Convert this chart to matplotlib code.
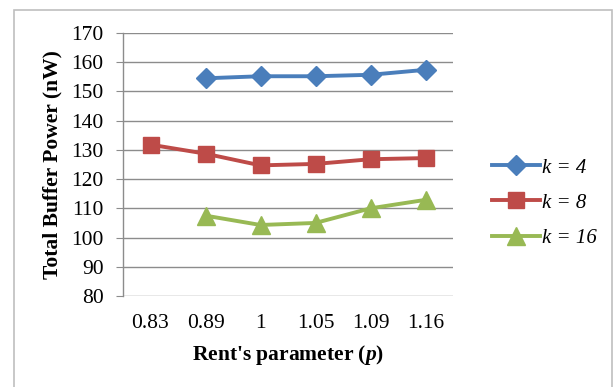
import matplotlib.pyplot as plt
from matplotlib.patches import Rectangle

# data
categories = ['0.83', '0.89', '1', '1.05', '1.09', '1.16']
k4 = [None, 154.5, 155.2, 155.2, 155.7, 157.4]
k8 = [131.8, 128.7, 124.7, 125.2, 126.8, 127.2]
k16 = [None, 107.5, 104.3, 105.0, 110.0, 112.9]
series_labels = ['k = 4', 'k = 8', 'k = 16']

plt.rcParams['font.family'] = ['Liberation Serif', 'DejaVu Serif']
plt.rcParams['mathtext.fontset'] = 'custom'
plt.rcParams['mathtext.rm'] = 'Liberation Serif'
plt.rcParams['mathtext.it'] = 'Liberation Serif:italic'
plt.rcParams['mathtext.bf'] = 'Liberation Serif:bold'
plt.rcParams['mathtext.bfit'] = 'Liberation Serif:italic:bold'

fig = plt.figure(figsize=(6.14, 3.87), dpi=100)
ax = fig.add_axes([123 / 614, 1 - 296 / 387, 330 / 614, 263 / 387])

# outer chart border
fig.patches.append(Rectangle((14 / 614, -0.1), 598 / 614, 1.1 - 10 / 387,
                             transform=fig.transFigure, fill=False,
                             edgecolor='#bfbfbf', linewidth=1.2))

x = list(range(len(categories)))


def pts(vals):
    xs = [i for i, v in zip(x, vals) if v is not None]
    ys = [v for v in vals if v is not None]
    return xs, ys


styles = [('#4a7ebb', 'D', 10.5), ('#be4b48', 's', 11), ('#98b954', '^', 12.5)]
for vals, lab, (c, m, ms) in zip([k4, k8, k16], series_labels, styles):
    xs, ys = pts(vals)
    ax.plot(xs, ys, color=c, marker=m, markersize=ms, linewidth=2.8,
            label=lab, zorder=3)

ax.set_xlim(-0.5, len(categories) - 0.5)
ax.set_ylim(80, 170)
ax.set_yticks(range(80, 171, 10))
ax.set_xticks(x)
ax.set_xticklabels(categories)
ax.grid(axis='y', color='#8c8c8c', linewidth=1.0)
ax.set_axisbelow(True)

for s in ['top', 'right', 'bottom']:
    ax.spines[s].set_visible(False)
ax.spines['left'].set_color('#8c8c8c')
ax.spines['left'].set_linewidth(1.0)

ax.tick_params(axis='y', length=5, color='#8c8c8c', pad=9, labelsize=15.5)
ax.tick_params(axis='x', length=0, pad=13, labelsize=15.5)

ax.set_ylabel('Total Buffer Power (nW)', fontsize=15.5, fontweight='bold',
              labelpad=6)
ax.set_xlabel("Rent's parameter ($\\mathbfit{p}$)", fontsize=15.5,
              fontweight='bold', labelpad=7)

leg = ax.legend(loc='center left', bbox_to_anchor=(484 / 614, 1 - 203 / 387),
                bbox_transform=fig.transFigure, frameon=False,
                prop={'family': 'Liberation Serif', 'style': 'italic',
                      'size': 15},
                handlelength=2.3, handletextpad=0.1, labelspacing=0.75,
                borderaxespad=0)

plt.savefig('out.png', dpi=100)
